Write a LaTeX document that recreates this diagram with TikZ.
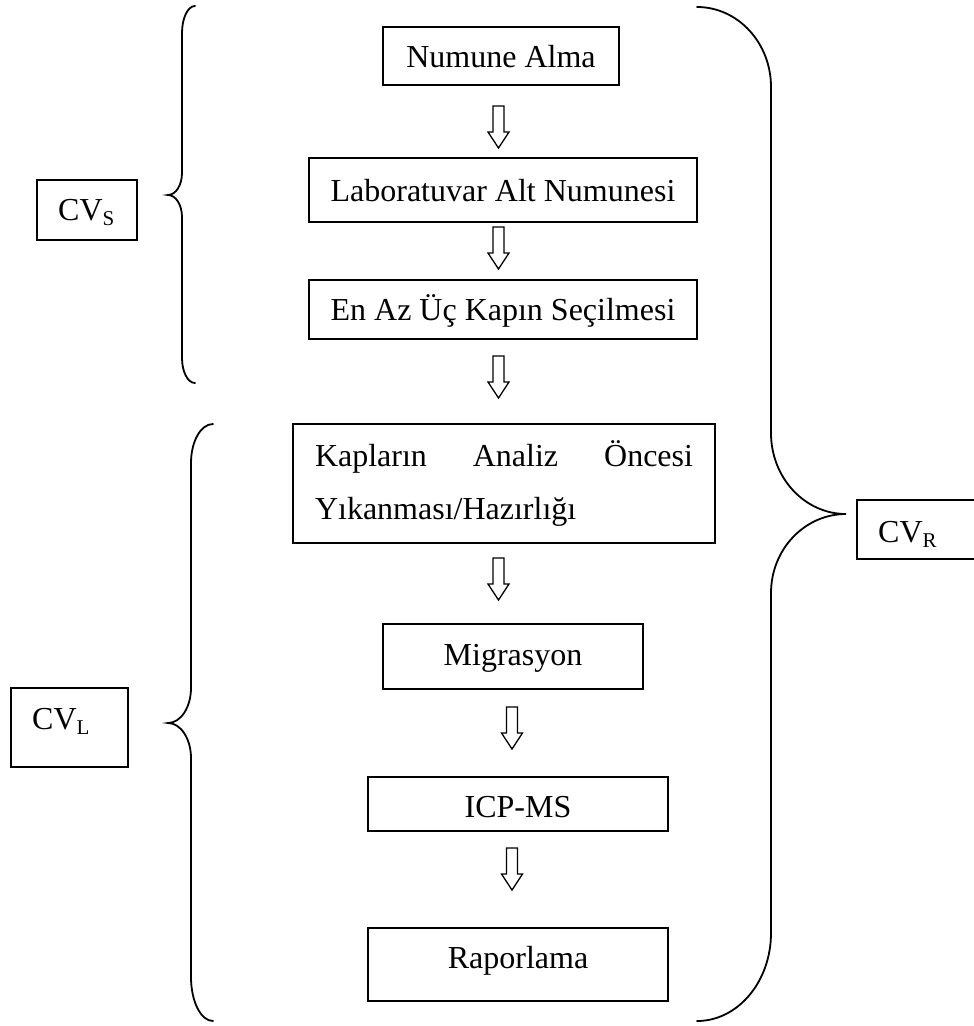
\documentclass[tikz,border=0pt]{standalone}
\usepackage{fontspec}
\setmainfont{Liberation Serif}
\newcommand{\subtxt}[1]{\raisebox{-5pt}{\fontsize{21}{21}\selectfont #1}}
\begin{document}
\begin{tikzpicture}[x=1pt,y=-1pt,
  basebox/.style={draw, line width=1.6pt, inner sep=0pt, font=\fontsize{32}{38}\selectfont},
  box/.style={basebox, text height=22pt, text depth=0pt},
  cvbox/.style={draw, line width=1.6pt, inner sep=0pt},
  lbl/.style={inner sep=0pt, anchor=base west, font=\fontsize{32}{38}\selectfont},
  brace/.style={line width=1.8pt, line cap=round},
  harrow/.style={line width=1.3pt, line join=miter},
  harr/.pic={\draw[harrow] (-5.5,0) -- (5.5,0) -- (5.5,26) -- (10.5,26) -- (0,42) -- (-10.5,26) -- (-5.5,26) -- cycle;}]
\useasboundingbox (0,0) rectangle (974,1026);

% main boxes
\node[box, minimum width=236pt, minimum height=58pt] (n1) at (501,56) {Numune Alma};
\node[box, minimum width=388pt, minimum height=64pt] (n2) at (503,190) {Laboratuvar Alt Numunesi};
\node[box, minimum width=388pt, minimum height=59pt] (n3) at (503,309.5) {En Az Üç Kapın Seçilmesi};
\node[basebox, minimum width=422pt, minimum height=119pt, font=\fontsize{32}{53}\selectfont, text width=378pt, align=left] (n4) at (504,483.5)
  {\hbox to 378pt{Kapların\hfill Analiz\hfill Öncesi}\\Yıkanması/Hazırlığı};
\node[box, minimum width=260pt, minimum height=65pt, text depth=5pt] (n5) at (513,656.5) {Migrasyon};
\node[box, minimum width=300pt, minimum height=54pt, text height=26pt] (n6) at (518,804) {ICP-MS};
\node[box, minimum width=300pt, minimum height=73pt, text depth=15pt] (n7) at (518,964.5) {Raporlama};

% hollow arrows
\coordinate (a1) at (498.5,106);
\coordinate (a2) at (498.5,227);
\coordinate (a3) at (498.5,356);
\coordinate (a4) at (498.5,558);
\coordinate (a5) at (512,707);
\coordinate (a6) at (512,848);
\pic at (a1) {harr};
\pic at (a2) {harr};
\pic at (a3) {harr};
\pic at (a4) {harr};
\pic at (a5) {harr};
\pic at (a6) {harr};

% CV boxes
\node[cvbox, minimum width=100pt, minimum height=60pt] (cvS) at (87,210) {};
\node[lbl] (cvSt) at (58,220) {CV\subtxt{S}};
\node[cvbox, minimum width=117pt, minimum height=79pt] (cvL) at (69.5,727.5) {};
\node[lbl] (cvLt) at (32,729) {CV\subtxt{L}};
\node[cvbox, minimum width=119pt, minimum height=59pt] (cvR) at (916.5,529.5) {};
\node[lbl] (cvRt) at (878,542) {CV\subtxt{R}};

% braces
\draw[brace] (195,6) .. controls (187.8,6) and (182,18.1) .. (182,33) -- (182,173)
  .. controls (182,185.2) and (175.7,195) .. (168,195)
  .. controls (175.7,195) and (182,204.8) .. (182,217) -- (182,358)
  .. controls (182,371.8) and (187.8,383) .. (195,383);
\draw[brace] (213,424) .. controls (200.8,424) and (191,441.5) .. (191,463) -- (191,688)
  .. controls (191,707.3) and (180.7,723) .. (168,723)
  .. controls (180.7,723) and (191,738.7) .. (191,758) -- (191,977)
  .. controls (191,1001.3) and (200.8,1021) .. (213,1021);
\draw[brace] (697,7) .. controls (737.9,7) and (771,42.8) .. (771,87) -- (771,433)
  .. controls (771,477.7) and (804.6,514) .. (846,514)
  .. controls (804.6,514) and (771,549.4) .. (771,593) -- (771,933)
  .. controls (771,981.6) and (737.9,1021) .. (697,1021);
\end{tikzpicture}
\end{document}
